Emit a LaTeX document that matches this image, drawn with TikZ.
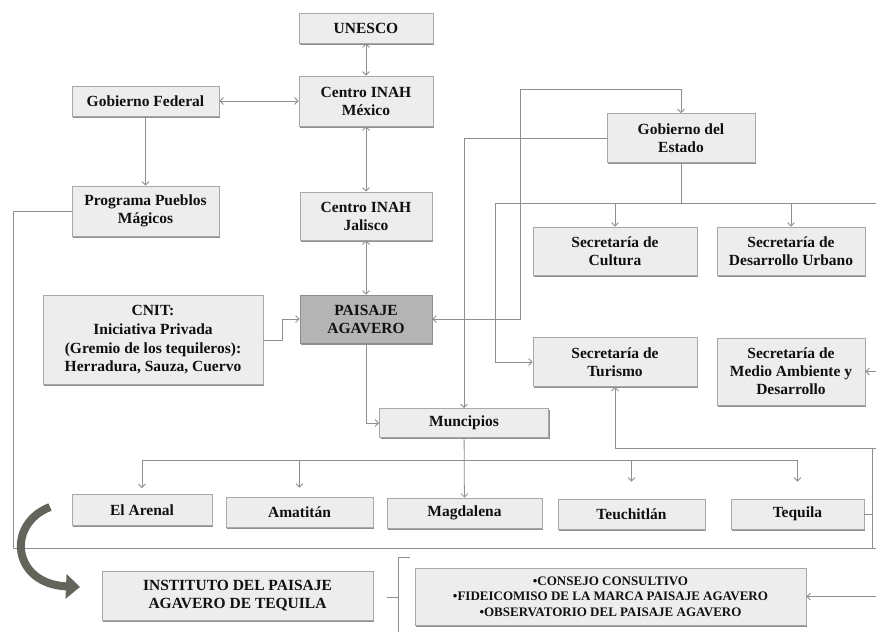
\documentclass[tikz,border=0pt]{standalone}
\usepackage{fontspec}
\setmainfont{Liberation Serif}
\usetikzlibrary{arrows.meta,shadows}

\definecolor{boxfill}{HTML}{EDEDED}
\definecolor{boxline}{HTML}{A8A8A8}
\definecolor{linkgray}{HTML}{8E8E8E}
\definecolor{darkfill}{HTML}{B4B4B4}
\definecolor{swoosh}{HTML}{61655A}
\definecolor{ink}{HTML}{101010}

\begin{document}
\begin{tikzpicture}[
  x=1pt,
  y=-1pt,
  >={Straight Barb[length=3.5pt,width=7pt]},
  link/.style={draw=linkgray,line width=.8pt},
  box/.style={draw=boxline,line width=.8pt,fill=boxfill,align=center,
    inner sep=0pt,text=ink,font=\fontsize{15.5}{18}\selectfont\bfseries,
    drop shadow={shadow xshift=1.2pt,shadow yshift=-1.8pt,fill=black!55,opacity=.8}},
  hub/.style={box,fill=darkfill,draw=black!45},
  small/.style={font=\fontsize{13}{15.5}\selectfont\bfseries},
  swoop/.style={draw=swoosh,line width=8pt,-{Triangle[length=14pt,width=24pt]}}
]
\path[fill=white] (0,0) rectangle (876,632);
\useasboundingbox (0,0) rectangle (876,632);

% federal side
\node[box,minimum width=134pt,minimum height=30pt] (unesco) at (366,28) {UNESCO};
\node[box,minimum width=134pt,minimum height=50pt] (inahmex) at (366,101)
  {Centro INAH\\México};
\node[box,minimum width=147pt,minimum height=30pt] (gobfed) at (145.5,101)
  {Gobierno Federal};
\node[box,minimum width=147pt,minimum height=50pt] (pueblos) at (145.5,211)
  {Programa Pueblos\\Mágicos};
\node[box,minimum width=132pt,minimum height=48pt] (inahjal) at (366,216)
  {Centro INAH\\Jalisco};
\node[box,minimum width=220pt,minimum height=89pt,font=\fontsize{15.5}{18.7}\selectfont\bfseries]
  (cnit) at (153,340)
  {CNIT:\\Iniciativa Privada\\(Gremio de los tequileros):\\Herradura, Sauza, Cuervo};
\node[hub,minimum width=132pt,minimum height=48pt] (paisaje) at (366,319)
  {PAISAJE\\AGAVERO};

% state side
\node[box,minimum width=148pt,minimum height=49pt] (gobest) at (681,138)
  {Gobierno del\\Estado};
\node[box,minimum width=164pt,minimum height=48pt] (cultura) at (615,251)
  {Secretaría de\\Cultura};
\node[box,minimum width=148pt,minimum height=48pt] (urbano) at (791,251)
  {Secretaría de\\Desarrollo Urbano};
\node[box,minimum width=164pt,minimum height=49pt] (turismo) at (615,362)
  {Secretaría de\\Turismo};
\node[box,minimum width=148pt,minimum height=67pt] (medio) at (791,371.5)
  {Secretaría de\\Medio Ambiente y\\Desarrollo};

% municipalities
\node[box,minimum width=169pt,minimum height=29pt] (municipios) at (464,423) {Muncipios};
\node[box,minimum width=140pt,minimum height=31pt] (arenal) at (142,510) {El Arenal};
\node[box,minimum width=147pt,minimum height=30pt] (amatitan) at (299.5,512) {Amatitán};
\node[box,minimum width=155pt,minimum height=30pt] (magdalena) at (464.5,513) {Magdalena};
\node[box,minimum width=147pt,minimum height=30pt] (teuchitlan) at (631.5,514) {Teuchitlán};
\node[box,minimum width=133pt,minimum height=30pt] (tequila) at (797.5,514) {Tequila};

% institute
\node[box,minimum width=271pt,minimum height=49pt] (instituto) at (237.5,595.5)
  {INSTITUTO DEL PAISAJE\\AGAVERO DE TEQUILA};
\node[box,small,minimum width=391pt,minimum height=57pt] (consejo) at (610.5,596.5)
  {•CONSEJO CONSULTIVO\\•FIDEICOMISO DE LA MARCA PAISAJE AGAVERO\\•OBSERVATORIO DEL PAISAJE AGAVERO};

\coordinate (sepL) at (13,548);
\coordinate (sepR) at (876,548);
\coordinate (frameR) at (872,548);
\coordinate (topbend) at (520,89);
\coordinate (estbus) at (681,203);
\coordinate (busL) at (495,203);
\coordinate (busR) at (876,203);
\coordinate (medR) at (876,371.5);
\coordinate (turR) at (876,448);
\coordinate (munbus) at (464,460);
\coordinate (conR) at (876,596.5);
\coordinate (brTop) at (410,557);
\coordinate (brBot) at (398,632);
\coordinate (brTip) at (387,597);
\coordinate (swoopA) at (50,507);
\coordinate (swoopB) at (80,587);

\draw[link,<->] (unesco) -- (inahmex);
\draw[link,<->] (gobfed) -- (inahmex);
\draw[link,<->] (inahmex) -- (inahjal);
\draw[link,<->] (inahjal) -- (paisaje);
\draw[link,->] (gobfed) -- (pueblos);
\draw[link] (pueblos.west) -| (sepL) -- (sepR);
\draw[link,->] (cnit.east) -- ++(19,0) |- (paisaje.west);
\draw[link,<->] (paisaje.east) -| (topbend) -| (gobest.north);
\draw[link,->] (gobest.west) -| (municipios.north);
\draw[link] (gobest) -- (estbus);
\draw[link] (busL) -- (busR);
\draw[link,->] (estbus) -| (cultura.north);
\draw[link,->] (estbus) -| (urbano.north);
\draw[link,->] (busL) |- (turismo.west);
\draw[link,->] (medR) -- (medio.east);
\draw[link,->] (turR) -| (turismo.south);
\draw[link] (frameR) -- (frameR |- turR);
\draw[link] (tequila.east) -- (tequila.east -| frameR);
\draw[link,->] (paisaje.south) |- (municipios.west);
\draw[link,->] (municipios) -- (magdalena);
\draw[link] (munbus -| arenal) -- (munbus -| tequila);
\draw[link,->,shorten >=6pt] (munbus -| arenal) -- (arenal);
\draw[link,->,shorten >=9pt] (munbus -| amatitan) -- (amatitan);
\draw[link,->,shorten >=17pt] (munbus -| teuchitlan) -- (teuchitlan);
\draw[link,->,shorten >=17pt] (munbus -| tequila) -- (tequila);
\draw[link,->] (conR) -- (consejo.east);
\draw[link] (brTop) -- (brTop -| brBot) -- (brBot);
\draw[link] (brTip) -- (brTip -| brBot);
\draw[swoop] (swoopA) .. controls (6,524) and (12,584) .. (swoopB);

\end{tikzpicture}
\end{document}
